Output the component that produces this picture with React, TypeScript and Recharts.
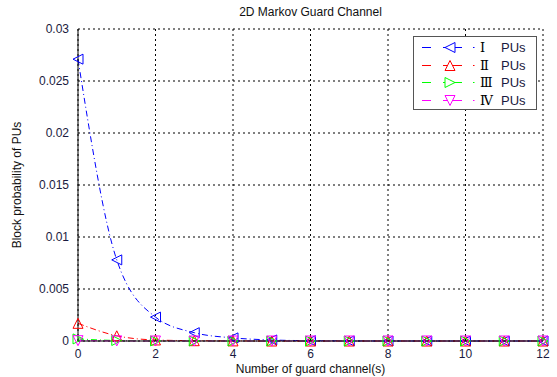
import { LineChart, Line, XAxis, YAxis, CartesianGrid } from 'recharts';

// guard channels 0..12
const channels = [0, 1, 2, 3, 4, 5, 6, 7, 8, 9, 10, 11, 12];
const pu1 = [0.0271, 0.0078, 0.0023, 0.0008, 0.0003, 0.0001, 0.00003, 0.00001, 0, 0, 0, 0, 0];
const pu2 = [0.0017, 0.0005, 0.0001, 0.00003, 0.00001, 0, 0, 0, 0, 0, 0, 0, 0];
const pu3 = [0.0002, 0.00005, 0.00001, 0, 0, 0, 0, 0, 0, 0, 0, 0, 0];
const pu4 = [0.00003, 0.00001, 0, 0, 0, 0, 0, 0, 0, 0, 0, 0, 0];
const xTicks = [0, 2, 4, 6, 8, 10, 12];
const yTicks = [0, 0.005, 0.01, 0.015, 0.02, 0.025, 0.03];

const seriesInfo = [
  { key: 'pu1', label: 'Ⅰ', color: '#0000ff', shape: 'left' },
  { key: 'pu2', label: 'Ⅱ', color: '#ff0000', shape: 'up' },
  { key: 'pu3', label: 'Ⅲ', color: '#00ff00', shape: 'right' },
  { key: 'pu4', label: 'Ⅳ', color: '#ff00ff', shape: 'down' },
];

const chartData = channels.map((c, i) => ({ c, pu1: pu1[i], pu2: pu2[i], pu3: pu3[i], pu4: pu4[i] }));

const DASH = '6 3 1 3';
const SANS = 'Liberation Sans, Arial, sans-serif';

function trianglePoints(shape: string, cx: number, cy: number, r: number) {
  switch (shape) {
    case 'left':
      return `${cx - r},${cy} ${cx + r},${cy - r} ${cx + r},${cy + r}`;
    case 'right':
      return `${cx + r},${cy} ${cx - r},${cy - r} ${cx - r},${cy + r}`;
    case 'up':
      return `${cx},${cy - r} ${cx - r},${cy + r} ${cx + r},${cy + r}`;
    default:
      return `${cx},${cy + r} ${cx - r},${cy - r} ${cx + r},${cy - r}`;
  }
}

const makeDot = (shape: string, color: string) => (props: any) => {
  const { cx, cy, index } = props;
  if (cx == null || cy == null) return <g key={`d-${shape}-${index}`} />;
  return (
    <polygon
      key={`d-${shape}-${index}`}
      points={trianglePoints(shape, cx, cy, 5)}
      fill="none"
      stroke={color}
      strokeWidth={1}
    />
  );
};

const LegendBox = () => (
  <div
    style={{
      position: 'absolute',
      top: 36,
      left: 413,
      border: '1.5px solid #555',
      background: '#fff',
      width: 124,
      height: 74,
      boxSizing: 'border-box',
      paddingTop: 2,
      fontFamily: SANS,
    }}
  >
    {seriesInfo.map((s) => (
      <div key={s.key} style={{ display: 'flex', alignItems: 'center', height: 17.5 }}>
        <svg width={66} height={17}>
          <rect x={8} y={8} width={9} height={1} fill={s.color} />
          <rect x={29} y={8} width={19} height={1} fill={s.color} />
          <rect x={59} y={8} width={1.5} height={1} fill={s.color} />
          <polygon points={trianglePoints(s.shape, 36, 8.5, 5)} fill="#fff" stroke={s.color} strokeWidth={1} />
        </svg>
        <span style={{ fontFamily: 'DejaVu Serif, Liberation Serif, serif', fontSize: 13, width: 21, color: '#000' }}>{s.label}</span>
        <span style={{ fontSize: 13, color: '#1a1a40' }}>PUs</span>
      </div>
    ))}
  </div>
);

export default function App() {
  return (
    <div style={{ position: 'absolute', left: 0, top: 0, width: 557, height: 377, background: '#fff' }}>
      <div
        style={{
          position: 'absolute',
          top: 5,
          left: 78,
          width: 465,
          textAlign: 'center',
          fontFamily: SANS,
          fontSize: 12,
          color: '#111',
        }}
      >
        2D Markov Guard Channel
      </div>
      <LineChart
        width={557}
        height={377}
        data={chartData}
        margin={{ top: 29, right: 14, left: 30, bottom: 20 }}
        style={{ fontFamily: SANS }}
      >
        <CartesianGrid stroke="#000" strokeDasharray="2 3" horizontalValues={yTicks} verticalValues={xTicks} />
        <XAxis
          dataKey="c"
          type="number"
          domain={[0, 12]}
          ticks={xTicks}
          height={16}
          tickLine={false}
          axisLine={{ stroke: '#000' }}
          tick={{ fill: '#1a1a40', fontSize: 12 }}
          tickMargin={2}
          label={{ value: 'Number of guard channel(s)', position: 'insideBottom', offset: -16, fill: '#111', fontSize: 12 }}
        />
        <XAxis xAxisId="top" orientation="top" type="number" domain={[0, 12]} height={0} tick={false} tickLine={false} axisLine={{ stroke: '#000' }} />
        <YAxis
          type="number"
          domain={[0, 0.03]}
          ticks={yTicks}
          width={48}
          tickLine={false}
          axisLine={{ stroke: '#000' }}
          tick={{ fill: '#1a1a40', fontSize: 12 }}
          tickMargin={3}
          tickFormatter={(v: number) => String(v)}
          label={{ value: 'Block probability of PUs', angle: -90, position: 'insideLeft', offset: -13, fill: '#111', fontSize: 12, style: { textAnchor: 'middle' } }}
        />
        <YAxis yAxisId="right" orientation="right" type="number" domain={[0, 0.03]} width={0} tick={false} tickLine={false} axisLine={{ stroke: '#000' }} />
        {seriesInfo.map((s) => (
          <Line
            key={s.key}
            dataKey={s.key}
            type="monotone"
            stroke={s.color}
            strokeWidth={1}
            strokeDasharray={DASH}
            dot={makeDot(s.shape, s.color)}
            activeDot={false}
            isAnimationActive={false}
          />
        ))}
      </LineChart>
      <LegendBox />
    </div>
  );
}
